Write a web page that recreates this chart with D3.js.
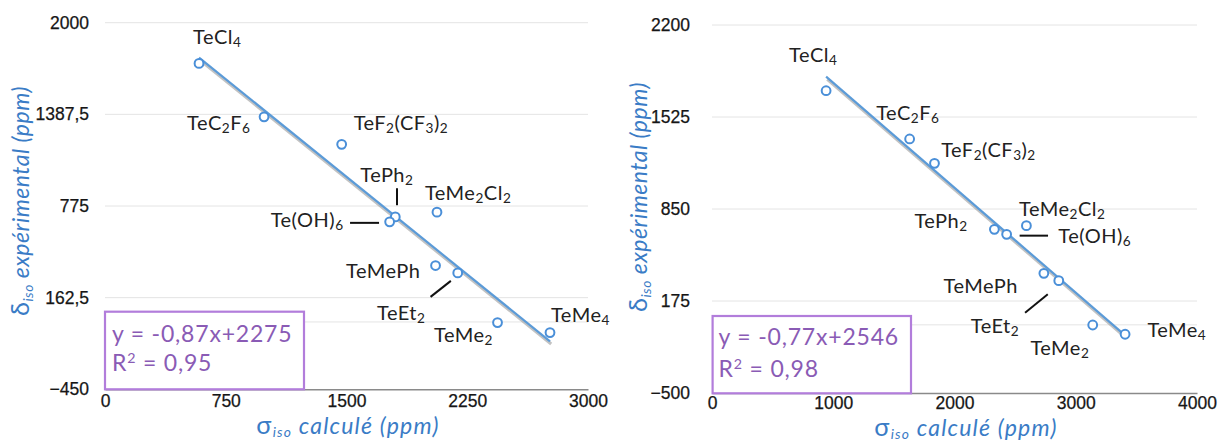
<!DOCTYPE html>
<html><head><meta charset="utf-8">
<script src="https://cdn.jsdelivr.net/npm/d3@7"></script>
<style>body{margin:0;background:#fff;overflow:hidden} svg{display:block}</style>
</head><body><svg id="c" width="1218" height="446"></svg>
<script>
// ---------- data ----------
const compounds = ["TeCl4","TeC2F6","TeF2(CF3)2","TePh2","Te(OH)6","TeMe2Cl2","TeMePh","TeEt2","TeMe2","TeMe4"];
const calcLeft  = [584, 988, 1470, 1803, 1768, 2062, 2053, 2191, 2438, 2764];
const expLeft   = [1728, 1371, 1187, 702, 669, 734, 377, 328, -4, -71];
const calcRight = [941, 1630, 1835, 2329, 2430, 2593, 2737, 2860, 3140, 3407];
const expRight  = [1718, 1364, 1185, 701, 664, 728, 378, 324, -1, -69];
const xTicksLeft  = [0, 750, 1500, 2250, 3000];
const yTicksLeft  = [-450, 162.5, 775, 1387.5, 2000];
const xTicksRight = [0, 1000, 2000, 3000, 4000];
const yTicksRight = [-500, 175, 850, 1525, 2200];
const trendLeft  = {slope: -0.87, intercept: 2275};
const trendRight = {slope: -0.77, intercept: 2546};
const eqLeft  = ["y = -0,87x+2275", "0,95"];
const eqRight = ["y = -0,77x+2546", "0,98"];

// ---------- layout (pixels) ----------
const panels = [
  { calc: calcLeft, exp: expLeft, xTicks: xTicksLeft, yTicks: yTicksLeft, trend: trendLeft, eq: eqLeft,
    xr: [105, 588], yr: [389.3, 22.7], yLabPad: 16, xLabPad: 5,
    yTitle: [21, 201], xTitle: [348, 434],
    box: [105, 311.7, 199, 77.6], eqText: [112, 342.3, 371],
    labOff: [[-6,-19],[-77,13.3],[12,-14],[-35,-35],[-119,5],[-12,-12],[-89.5,12.7],[-80.7,47.3],[-63.5,19.4],[1,-10.6]],
    leaders: [[3,1.7,-28.7,1.7,-11.7],[4,-39.6,1,-10.6,1],[7,-27.2,24,-6.9,8]] },
  { calc: calcRight, exp: expRight, xTicks: xTicksRight, yTicks: yTicksRight, trend: trendRight, eq: eqRight,
    xr: [712, 1197], yr: [393, 25], yLabPad: 22, xLabPad: 4,
    yTitle: [639, 197], xTitle: [966, 436],
    box: [712.6, 316, 198.4, 77.3], eqText: [718.6, 345, 377],
    labOff: [[-37,-29],[-33.5,-19],[6.7,-6.6],[-80,-1],[51.7,9],[-7.3,-9.7],[-100.3,19.4],[-88,52],[-62.3,30],[22.3,2.4]],
    leaders: [[4,13,1.3,41.4,1.3],[7,-33.7,32,-11,13.6]] }
];

const BLUE = "#4a8fd8", LINE = "#5b9bd8", TITLE = "#3a7cc6", PURPLE = "#8a5bb5", BOXC = "#b27ddb";
const LABFONT = "Lato, 'Open Sans', sans-serif";
const TICKFONT = "'Liberation Sans', Arial, sans-serif";
const loc = d3.formatLocale({decimal: ",", thousands: "", grouping: [3], currency: ["", ""]});
const fmt = v => loc.format("~f")(v);

const svg = d3.select("#c");

function chem(sel, name) {
  const parts = name.match(/\d+|[^\d]+/g);
  let prevSub = false;
  parts.forEach(p => {
    if (/\d/.test(p)) {
      sel.append("tspan").attr("font-size", "0.68em").attr("dy", prevSub ? null : "0.22em").text(p);
      prevSub = true;
    } else {
      sel.append("tspan").attr("dy", prevSub ? "-0.15em" : null).text(p);
      prevSub = false;
    }
  });
}

panels.forEach(P => {
  const x = d3.scaleLinear().domain(d3.extent(P.xTicks)).range(P.xr);
  const y = d3.scaleLinear().domain(d3.extent(P.yTicks)).range(P.yr);
  const g = svg.append("g");

  // gridlines
  g.selectAll(".grid").data(P.yTicks.slice(1)).enter().append("line")
    .attr("x1", P.xr[0]).attr("x2", P.xr[1]).attr("y1", d => y(d)).attr("y2", d => y(d))
    .attr("stroke", "#e4e4e4").attr("stroke-width", 1);
  g.append("line").attr("x1", P.xr[0]).attr("x2", P.xr[1]).attr("y1", y(0)).attr("y2", y(0))
    .attr("stroke", "#e4e4e4").attr("stroke-width", 1);

  // y axis labels
  const ya = g.append("g").attr("transform", `translate(${P.xr[0]},0)`)
    .call(d3.axisLeft(y).tickValues(P.yTicks).tickFormat(fmt).tickSize(0).tickPadding(P.yLabPad));
  ya.select(".domain").remove();
  ya.selectAll("text").attr("font-family", TICKFONT).attr("font-size", 17.5).attr("fill", "#161616")
    .attr("stroke", "#161616").attr("stroke-width", 0.25);

  // x axis
  const xa = g.append("g").attr("transform", `translate(0,${P.yr[0]})`)
    .call(d3.axisBottom(x).tickValues(P.xTicks).tickFormat(fmt).tickSize(0).tickPadding(P.xLabPad));
  xa.select(".domain").attr("stroke", "#8a8a8a").attr("stroke-width", 1.6);
  xa.selectAll("text").attr("font-family", TICKFONT).attr("font-size", 17.5).attr("fill", "#161616")
    .attr("stroke", "#161616").attr("stroke-width", 0.25);

  // trend line (with shadow)
  const x0 = d3.min(P.calc), x1 = d3.max(P.calc);
  const tl = [[x0, P.trend.slope * x0 + P.trend.intercept], [x1, P.trend.slope * x1 + P.trend.intercept]];
  const lg = d3.line().x(d => x(d[0])).y(d => y(d[1]));
  g.append("path").attr("d", lg(tl)).attr("transform", "translate(1.2,2.6)")
    .attr("stroke", "#9a9a9a").attr("stroke-opacity", 0.6).attr("stroke-width", 3.2).attr("fill", "none");
  g.append("path").attr("d", lg(tl)).attr("stroke", LINE).attr("stroke-width", 2.2).attr("fill", "none");

  // points
  const pts = compounds.map((c, i) => ({c, cx: x(P.calc[i]), cy: y(P.exp[i]), i}));
  g.selectAll(".pt").data(pts).enter().append("circle")
    .attr("cx", d => d.cx).attr("cy", d => d.cy).attr("r", 4.4)
    .attr("fill", "#fff").attr("stroke", BLUE).attr("stroke-width", 2);

  // leaders
  P.leaders.forEach(L => {
    const p = pts[L[0]];
    g.append("line").attr("x1", p.cx + L[1]).attr("y1", p.cy + L[2]).attr("x2", p.cx + L[3]).attr("y2", p.cy + L[4])
      .attr("stroke", "#111").attr("stroke-width", 2);
  });

  // labels
  pts.forEach(p => {
    const t = g.append("text").attr("x", p.cx + P.labOff[p.i][0]).attr("y", p.cy + P.labOff[p.i][1])
      .attr("font-family", LABFONT).attr("font-size", 20).attr("letter-spacing", 0.5).attr("fill", "#222");
    chem(t, p.c);
  });

  // equation box
  g.append("rect").attr("x", P.box[0]).attr("y", P.box[1]).attr("width", P.box[2]).attr("height", P.box[3])
    .attr("fill", "#fff").attr("stroke", BOXC).attr("stroke-width", 2.2);
  g.append("text").attr("x", P.eqText[0]).attr("y", P.eqText[1]).attr("font-family", LABFONT)
    .attr("font-size", 23).attr("letter-spacing", 0.8).attr("fill", PURPLE).text(P.eq[0]);
  const r2 = g.append("text").attr("x", P.eqText[0]).attr("y", P.eqText[2]).attr("font-family", LABFONT)
    .attr("font-size", 23).attr("letter-spacing", 0.8).attr("fill", PURPLE);
  r2.append("tspan").text("R");
  r2.append("tspan").attr("font-size", "0.62em").attr("dy", "-0.55em").text("2");
  r2.append("tspan").attr("dy", "0.34em").text(" = " + P.eq[1]);

  // axis titles
  const xt = g.append("text").attr("x", P.xTitle[0]).attr("y", P.xTitle[1]).attr("text-anchor", "middle")
    .attr("font-family", LABFONT).attr("font-size", 23).attr("letter-spacing", 1.2).attr("fill", TITLE);
  xt.append("tspan").attr("font-size", "1.1em").text("σ");
  xt.append("tspan").attr("font-size", "0.6em").attr("font-style", "italic").attr("dy", "0.25em").text("iso");
  xt.append("tspan").attr("font-style", "italic").attr("dy", "-0.15em").text(" calculé (ppm)");

  const yt = g.append("text").attr("transform", `translate(${P.yTitle[0]},${P.yTitle[1]}) rotate(-90)`)
    .attr("text-anchor", "middle").attr("dy", "0.35em")
    .attr("font-family", LABFONT).attr("font-size", 23).attr("letter-spacing", 0.5).attr("fill", TITLE);
  yt.append("tspan").attr("font-size", "1.1em").text("δ");
  yt.append("tspan").attr("font-size", "0.6em").attr("font-style", "italic").attr("dy", "0.25em").text("iso");
  yt.append("tspan").attr("font-style", "italic").attr("dy", "-0.15em").text(" expérimental (ppm)");
});
</script></body></html>
